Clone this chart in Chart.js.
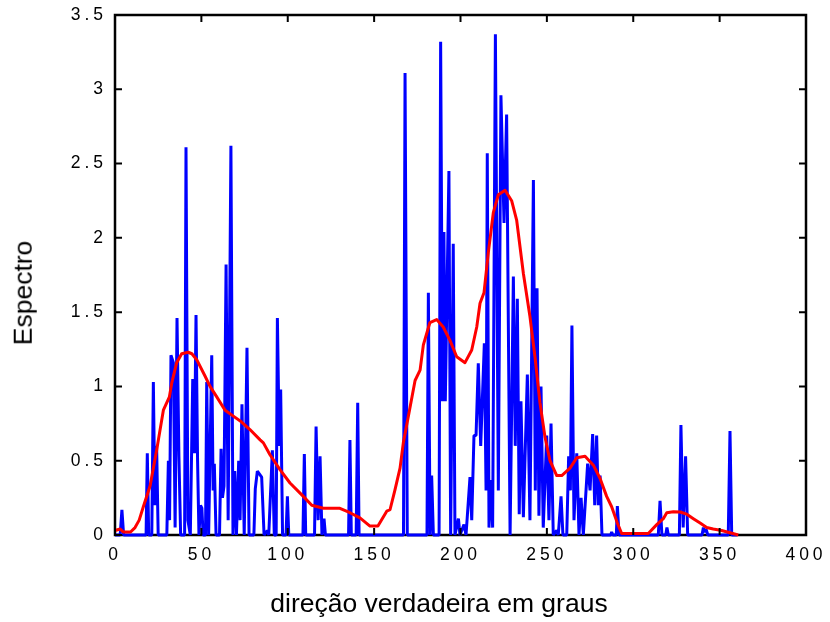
<!DOCTYPE html>
<html>
<head>
<meta charset="utf-8">
<script src="https://cdn.jsdelivr.net/npm/chart.js@4.4.0/dist/chart.umd.min.js"></script>
<style>
  html, body { margin: 0; padding: 0; background: #fff; }
  #wrap { position: relative; width: 830px; height: 622px; }
  #chart { position: absolute; left: 0; top: 0; }
  .axis-title { position: absolute; font-family: "Liberation Sans", Arial, sans-serif; font-size: 26.5px; line-height: 1; color: #000; white-space: nowrap; }
  #xTitle { left: 0; width: 878px; top: 589.6px; text-align: center; }
  #yTitle { left: 22.5px; top: 292.5px; transform: translate(-50%, -50%) rotate(-90deg); }
</style>
</head>
<body>
<div id="wrap">
  <canvas id="chart" width="830" height="622"></canvas>
  <div class="axis-title" id="xTitle">direção verdadeira em graus</div>
  <div class="axis-title" id="yTitle">Espectro</div>
</div>
<script>
// ===== data =====

const xTicks = [0, 50, 100, 150, 200, 250, 300, 350, 400];
const yTicks = [0, 0.5, 1, 1.5, 2, 2.5, 3, 3.5];

// blue: raw spectrum, direction (deg) / value
const blueDir = [
  0, 3, 4, 5, 18, 18.7, 19.5, 21.3, 22.2, 23.1, 24.1, 25,
  30, 30.9, 31.6, 32.4, 33.8, 34.8, 35.9, 37, 38,
  40.3, 41.1, 42.2, 43.6, 45, 46, 46.9, 47.8, 48.6, 49.5, 50.3, 51,
  52.4, 53.1, 54.2, 56, 56.8, 57.5, 58.5,
  60.5, 61.4, 62.2, 63.1, 64.3, 65.5, 67.1, 68.3, 69.3, 70.3, 71.6, 72.4, 73.5, 74.8, 76.4, 77.6,
  80.4, 81.2, 82.4, 84.9, 86.3, 88.2, 89, 91.1, 92.2, 93.3, 94, 95.1, 95.9, 97, 99, 99.8, 100.6,
  108.8, 109.6, 110.4, 115.5, 116.4, 117.6, 118.7, 119.8, 121, 121.8,
  135.2, 136, 136.8, 139.6, 140.5, 141.3,
  167, 167.9, 169.2,
  180.6, 181.4, 182.4, 183.3, 184.3, 187.6, 188.5, 189.6, 190.4, 191.2, 193.3, 194.3, 195.8, 196.8,
  198.8, 199.7, 202, 203.2, 205.5, 206.5, 207.8, 209, 210.3, 211.7, 213.8, 214.8, 215.5, 216.5,
  217.5, 218.6, 220.2, 221.9, 223.4, 225.2, 226.7, 228.7, 230.6, 231.7, 232.9, 234, 235, 236.4,
  238.7, 240.2, 242.2, 243.3, 244.3, 245.4, 246.6, 247.9, 249.9, 251.2, 252.4, 253.7, 255.7, 256.6,
  258.2, 259.3, 261.5, 262.6, 263.6, 264.5, 265.7, 267.3, 268.6, 269.8, 271.1, 273.6, 275, 276.5,
  277.7, 278.8, 279.8, 280.8, 281.9, 287, 287.5, 288.2, 290.2, 290.8, 291.8,
  314.5, 315.5, 316.6, 318.8, 319.5, 320.3, 326.7, 327.6, 328.9, 330.3, 331.5,
  339.8, 340.6, 341.3, 342.1, 343.2, 355, 356, 357, 360
];
const blueVal = [
  0, 0, 0.17, 0, 0, 0.55, 0, 0, 1.03, 0.2, 0.6, 0,
  0, 0.5, 0.1, 1.21, 1.16, 0.05, 1.46, 0.53, 0,
  0, 2.61, 0.1, 0, 1.05, 0.55, 1.48, 0.5, 0, 0.2, 0.18, 0,
  0, 1.03, 0, 1.21, 0.3, 0.48, 0,
  0, 0.58, 0.25, 0.33, 1.82, 0.1, 2.62, 0, 0.43, 0, 0.5, 0.1, 0.88, 0, 1.26, 0,
  0, 0.31, 0.43, 0.39, 0, 0.03, 0, 0.57, 0, 0, 1.46, 0.6, 0.98, 0, 0, 0.26, 0,
  0, 0.545, 0, 0, 0.73, 0.1, 0.53, 0, 0.11, 0,
  0, 0.64, 0, 0, 0.89, 0,
  0, 3.11, 0,
  0, 1.63, 0, 0.4, 0, 0, 3.32, 0.9, 2.04, 0.9, 2.45, 0, 1.96, 0,
  0.11, 0, 0.07, 0, 0.39, 0.1, 0.67, 0.67, 1.155, 0.6, 1.29, 0.3, 2.57, 0.05,
  0.37, 0.05, 3.37, 0.3, 2.96, 2.1, 2.83, 0, 1.74, 0.6, 1.59, 0.14, 0.9, 0.12,
  1.08, 0.1, 2.39, 0.3, 1.66, 0.13, 1.0, 0.05, 0.67, 0.1, 0.75, 0, 0.03, 0,
  0.26, 0, 0, 0.53, 0.3, 1.41, 0.1, 0.55, 0, 0.25, 0, 0.48, 0.3, 0.68,
  0.2, 0.67, 0.2, 0.4, 0, 0, 0.02, 0, 0, 0.195, 0,
  0, 0.23, 0, 0, 0.05, 0, 0, 0.74, 0.05, 0.53, 0,
  0, 0.05, 0.02, 0.04, 0, 0, 0.7, 0, 0
];

// red: smoothed spectrum
const redDir = [
  0, 3, 5, 9, 11.6, 14, 16.4, 20.3, 24.1, 28, 31.5, 32.8, 35.7, 38.6, 42.4, 44.5, 47.3,
  52.1, 55, 58.9, 63.7, 68.5, 73.3, 78.1, 84, 85.9, 89.7, 95.5, 101.3, 109, 113.9,
  120.6, 130.2, 136, 141.8, 147.6, 152.2, 157.3, 159.2, 162, 165, 166.9, 170.8, 173.7,
  176.6, 178.5, 182.3, 186.2, 190, 193.9, 197.8, 202.6, 206.5, 209.4, 211.3, 213.6,
  216.1, 219, 221.9, 225.8, 229.6, 232.5, 236.4, 240.2, 243.1, 246, 248.9, 251.8,
  255.7, 258.6, 263.4, 267.3, 272.1, 276.9, 280.8, 284.6, 287.5, 290.8, 293.3,
  308.7, 313.6, 317.4, 319.4, 323.2, 327.1, 331, 334.8, 338.7, 342.5, 346.3, 351.2, 356, 360.8
];
const redVal = [
  0.03, 0.04, 0.02, 0.02, 0.05, 0.1, 0.19, 0.33, 0.57, 0.84, 0.93, 1.02, 1.16, 1.22, 1.23, 1.22, 1.18,
  1.07, 1.0, 0.93, 0.84, 0.8, 0.76, 0.71, 0.64, 0.62, 0.54, 0.44, 0.35, 0.26, 0.2,
  0.18, 0.18, 0.15, 0.115, 0.06, 0.06, 0.16, 0.17, 0.3, 0.45, 0.62, 0.86, 1.04,
  1.11, 1.28, 1.43, 1.45, 1.4, 1.31, 1.2, 1.16, 1.245, 1.4, 1.56, 1.63,
  1.9, 2.17, 2.29, 2.32, 2.25, 2.12, 1.76, 1.47, 1.2, 0.89, 0.66, 0.5,
  0.4, 0.4, 0.45, 0.52, 0.53, 0.47, 0.38, 0.26, 0.19, 0.08, 0.01,
  0.01, 0.07, 0.11, 0.15, 0.157, 0.155, 0.14, 0.11, 0.08, 0.05, 0.04, 0.03, 0.015, 0
];

// ===== chart =====

const toPoints = (xs, ys) => xs.map((x, i) => ({ x, y: ys[i] }));

// spaced-out tick digits, like the original figure
const tickSpacing = {
  id: "tickSpacing",
  beforeUpdate(chart) { chart.ctx.letterSpacing = "4px"; },
  beforeDraw(chart) { chart.ctx.letterSpacing = "4px"; }
};

// boxed axes with inward ticks
const boxFrame = {
  id: "boxFrame",
  beforeDatasetsDraw(chart) {
    const { ctx, chartArea: a } = chart;
    ctx.save();
    ctx.strokeStyle = "#000";
    ctx.lineWidth = 2.5;
    ctx.strokeRect(a.left, a.top, a.right - a.left, a.bottom - a.top);
    ctx.restore();
  },
  afterDatasetsDraw(chart) {
    const { ctx, chartArea: a, scales: { x, y } } = chart;
    ctx.save();
    ctx.strokeStyle = "#000";
    ctx.lineWidth = 2;
    ctx.beginPath();
    xTicks.forEach(v => {
      const px = x.getPixelForValue(v);
      ctx.moveTo(px, a.bottom); ctx.lineTo(px, a.bottom - 7);
      ctx.moveTo(px, a.top); ctx.lineTo(px, a.top + 7);
    });
    yTicks.forEach(v => {
      const py = y.getPixelForValue(v);
      ctx.moveTo(a.left, py); ctx.lineTo(a.left + 7, py);
      ctx.moveTo(a.right, py); ctx.lineTo(a.right - 7, py);
    });
    ctx.stroke();
    ctx.restore();
  }
};

Chart.defaults.font.family = '"Liberation Sans", Arial, sans-serif';
Chart.defaults.font.size = 17.5;
Chart.defaults.color = "#000";

new Chart(document.getElementById("chart"), {
  type: "line",
  data: {
    datasets: [
      {
        label: "suavizado",
        data: toPoints(redDir, redVal),
        borderColor: "#ff0000",
        borderWidth: 3,
        borderJoinStyle: "round",
        pointRadius: 0,
        tension: 0,
        clip: false,
        order: 0
      },
      {
        label: "espectro",
        data: toPoints(blueDir, blueVal),
        borderColor: "#0000ff",
        borderWidth: 3,
        borderJoinStyle: "bevel",
        pointRadius: 0,
        tension: 0,
        clip: false,
        order: 1
      }
    ]
  },
  options: {
    responsive: false,
    animation: false,
    layout: { padding: { top: 15, right: 24, left: 0, bottom: 0 } },
    plugins: { legend: { display: false }, tooltip: { enabled: false } },
    scales: {
      x: {
        type: "linear",
        min: 0,
        max: 400,
        afterBuildTicks: s => { s.ticks = xTicks.map(value => ({ value })); },
        afterFit: s => { s.height = 87; s.paddingLeft = 0; s.paddingRight = 0; },
        grid: { display: false },
        border: { display: false },
        ticks: { padding: 2, maxRotation: 0, autoSkip: false, callback: v => String(v) }
      },
      y: {
        type: "linear",
        min: 0,
        max: 3.5,
        afterBuildTicks: s => { s.ticks = yTicks.map(value => ({ value })); },
        afterFit: s => { s.width = 115; s.paddingTop = 0; s.paddingBottom = 0; },
        grid: { display: false },
        border: { display: false },
        ticks: { padding: 0, autoSkip: false, callback: v => String(v) }
      }
    }
  },
  plugins: [tickSpacing, boxFrame]
});
</script>
</body>
</html>
